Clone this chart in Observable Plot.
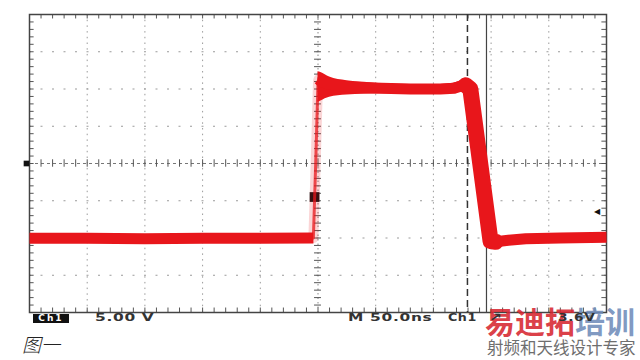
<!DOCTYPE html>
<html><head><meta charset="utf-8">
<script src="https://cdn.jsdelivr.net/npm/d3@7"></script>
<script src="https://cdn.jsdelivr.net/npm/@observablehq/plot@0.6"></script>
<style>
body{margin:0;background:#fff;width:640px;height:360px;overflow:hidden}
#wrap{position:relative;width:640px;height:360px}
#chart{position:absolute;left:0;top:0}
.st{position:absolute;font:bold 11px "DejaVu Sans",sans-serif;line-height:11px;color:#333;white-space:nowrap;transform:scaleX(1.4);transform-origin:0 0;letter-spacing:0.5px}
#chbox{position:absolute;left:33px;top:314px;width:36px;height:9px;background:#111;color:#fff;font:bold 9px "DejaVu Sans",sans-serif;line-height:9px;text-align:center;letter-spacing:2px}
#wm{position:absolute;left:485px;top:305px;font:bold 30px "Noto Sans CJK SC";line-height:30px;white-space:nowrap}
#wm2{position:absolute;left:487px;top:339px;font:16.5px "Noto Sans CJK SC";line-height:17px;color:#6e6e6e;white-space:nowrap}
#cap{position:absolute;left:22px;top:333px;font:italic 300 19px "Noto Sans CJK SC";line-height:22px;color:#222;white-space:nowrap}
</style></head><body>
<div id="wrap"><div id="chart"></div>
<div id="wm"><span style="color:rgba(214,38,48,0.88)">易迪拓</span><span style="color:rgba(112,140,186,0.88)">培训</span></div>
<div id="chbox">Ch1</div>
<div class="st" style="left:95px;top:312px">5.00 V</div>
<div class="st" style="left:348px;top:312px">M 50.0ns</div>
<div class="st" style="left:448px;top:312px;transform:scaleX(1.15)">Ch1</div>
<div class="st" style="left:489px;top:312px">↗</div>
<div class="st" style="left:558px;top:312px;transform:scaleX(1.25)">3.6V</div>
<div id="wm2">射频和天线设计专家</div>
<div id="cap">图一</div>
</div>
<script>
// time divisions (ns) and voltage divisions (V): 50 ns/div, 5 V/div
const timeDivs = [-250, -200, -150, -100, -50, 0, 50, 100, 150, 200, 250];
const voltDivs = [-20, -15, -10, -5, 0, 5, 10, 15, 20];

// trace centre line (ns, V)
const traceT = [-250, -200, -150, -100, -50, -4, -2, 0, 0.5, 2.5, 8, 20, 37, 55, 80, 106, 118, 124, 128, 132, 149.5, 154, 165, 180, 210, 250];
const traceV = [-10.05, -10.05, -10.1, -10.05, -10.05, -10, 0, 11, 11.3, 11.0, 10.7, 10.4, 10.2, 10.1, 10.0, 10.0, 10.1, 10.4, 10.5, 10.0, -10.4, -10.5, -10.3, -10.1, -10.0, -9.9];

// noise envelope on the high level (ns, V)
const bandT  = [0, 2.5, 10, 25, 40, 55, 80, 106, 118, 124, 128, 131];
const bandHi = [12.3, 12.2, 11.6, 11.1, 10.9, 10.7, 10.6, 10.6, 10.8, 11.1, 11.2, 10.8];
const bandLo = [8.2, 8.4, 8.9, 9.2, 9.3, 9.35, 9.4, 9.45, 9.5, 9.6, 9.6, 9.3];

// cursors (ns)
const cursorDashed = 129.5;
const cursorSolid = 146;
// markers
const groundLevel = 0;      // V
const triggerMark = {t: -3, v: -4.5};
const triggerLevel = -6.5;  // V, right-side arrow

const trace = traceT.map((t, i) => ({t, v: traceV[i]}));
const band = bandT.map((t, i) => ({t, hi: bandHi[i], lo: bandLo[i]}));
const minorT = d3.range(-250, 250.1, 10);
const minorV = d3.range(-20, 20.1, 1);
const red = "#e8161b";

const chart = Plot.plot({
  width: 640, height: 320,
  marginLeft: 29, marginRight: 34, marginTop: 14, marginBottom: 8,
  x: {domain: [-250, 250], axis: null},
  y: {domain: [-20, 20], axis: null},
  marks: [
    Plot.ruleX(timeDivs.filter(d => d !== 0 && Math.abs(d) !== 250), {stroke: "#9a9a9a", strokeDasharray: "1.5,4.2", strokeWidth: 1}),
    Plot.ruleY(voltDivs.filter(d => d !== 0 && Math.abs(d) !== 20), {stroke: "#9a9a9a", strokeDasharray: "2,9.5", strokeWidth: 1}),
    Plot.ruleX([0], {stroke: "#888", strokeDasharray: "1.5,3", strokeWidth: 1}),
    Plot.ruleY([0], {stroke: "#777", strokeDasharray: "3,3", strokeWidth: 1}),
    Plot.ruleX(minorT, {x: d => d, y1: -0.5, y2: 0.5, stroke: "#555"}),
    Plot.ruleY(minorV, {y: d => d, x1: -3, x2: 3, stroke: "#555"}),
    Plot.ruleX(minorT, {x: d => d, y1: 20, y2: 19.4, stroke: "#555"}),
    Plot.ruleX(minorT, {x: d => d, y1: -20, y2: -19.4, stroke: "#555"}),
    Plot.ruleY(minorV, {y: d => d, x1: -250, x2: -246, stroke: "#555"}),
    Plot.ruleY(minorV, {y: d => d, x1: 250, x2: 246, stroke: "#555"}),
    Plot.frame({stroke: "#444", strokeWidth: 1.5}),
    Plot.ruleX([cursorDashed], {stroke: "#333", strokeWidth: 1.5, strokeDasharray: "7,4"}),
    Plot.ruleX([cursorSolid], {stroke: "#444", strokeWidth: 1.2}),
    Plot.dot([triggerMark], {x: "t", y: "v", symbol: "square", r: 5.5, fill: "#111"}),
    Plot.line(trace.filter(d => d.t >= -4.5 && d.t <= 0.5), {x: "t", y: "v", stroke: red, strokeWidth: 10, strokeOpacity: 0.18}),
    Plot.line(trace.filter(d => d.t >= -4.5 && d.t <= 0.5), {x: "t", y: "v", stroke: red, strokeWidth: 3, strokeOpacity: 0.75}),
    Plot.line(trace.filter(d => d.t <= -4), {x: "t", y: "v", stroke: red, strokeWidth: 11, strokeLinecap: "butt"}),
    Plot.areaY(band, {x: "t", y1: "lo", y2: "hi", fill: red, curve: "monotone-x"}),
    Plot.line(trace.filter(d => d.t >= 0.5), {x: "t", y: "v", stroke: red, strokeWidth: 11, strokeLinejoin: "round", strokeLinecap: "butt"}),
    Plot.line(trace.filter(d => d.t >= 128 && d.t <= 154), {x: "t", y: "v", stroke: red, strokeWidth: 16, strokeLinejoin: "round"}),
    Plot.dot([groundLevel], {x: -250, y: d => d, symbol: "square", r: 3.2, fill: "#111", dx: -3}),
    Plot.text([triggerLevel], {x: 250, y: d => d, text: () => "◀", dx: -10, fontSize: 8, fill: "#111"})
  ]
});
document.getElementById("chart").appendChild(chart);
</script>
</body></html>
